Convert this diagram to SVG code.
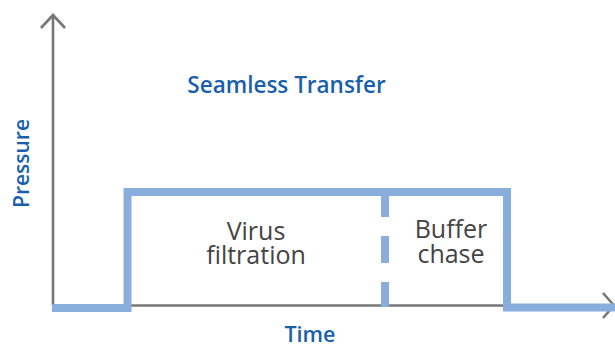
<svg xmlns="http://www.w3.org/2000/svg" width="615" height="348" viewBox="0 0 615 348">
<style>
.axis{stroke:#777;stroke-width:2.6;fill:none}
.signal{stroke:#8aaedc;stroke-width:8;fill:none}
.lbl{font-family:"Open Sans","Liberation Sans",sans-serif;font-weight:600;fill:#1a5fad}
.body{font-family:"Open Sans","Liberation Sans",sans-serif;font-size:25px;fill:#444;text-anchor:middle}
</style>
<rect width="615" height="348" fill="#fff"/>
<g id="axes">
<path class="axis" d="M53 306 V14 M41 28 L53 15 L65 28"/>
<path class="axis" d="M53 305.5 H613 M603 293 L614 305.5 L603 318"/>
</g>
<g id="connectors">
<path class="signal" d="M52 308 H127.5 V192 H507 V307.5 H615"/>
<line class="signal" x1="385" y1="190" x2="385" y2="307" stroke-dasharray="27 19"/>
</g>
<g id="title"><text class="lbl" x="286.5" y="93" font-size="22.5" text-anchor="middle">Seamless Transfer</text></g>
<g id="y-label"><text class="lbl" font-size="21" text-anchor="middle" transform="translate(29 163.5) rotate(-90)">Pressure</text></g>
<g id="x-label"><text class="lbl" x="310" y="342" font-size="21.5" text-anchor="middle">Time</text></g>
<g id="virus-filtration"><text class="body" x="256" y="240"><tspan x="256">Virus</tspan><tspan x="256" dy="24">filtration</tspan></text></g>
<g id="buffer-chase"><text class="body" x="451" y="238"><tspan x="451">Buffer</tspan><tspan x="451" dy="25">chase</tspan></text></g>
</svg>
